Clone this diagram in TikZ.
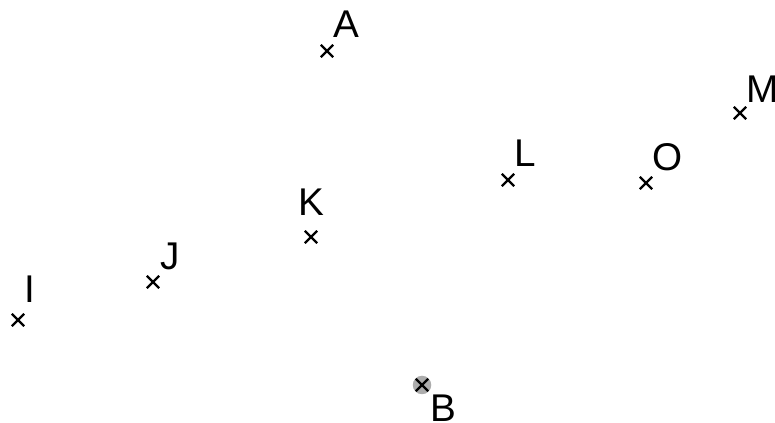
\documentclass[tikz,border=0pt]{standalone}
\usepackage{fontspec}
\setmainfont{Liberation Sans}
\usetikzlibrary{shapes.misc,positioning}
\begin{document}
\begin{tikzpicture}

      \useasboundingbox (0,0) rectangle (15.5,8.46);

      \node[circle, fill=gray!65, minimum size=0.37cm, inner sep=0pt] (Bdisc) at (8.44,0.76) {};

      \begin{scope}[every node/.style={cross out, draw, line width=1.3pt, minimum size=0.2cm, inner sep=0pt}]
        \node (A) at (6.54,7.44) {};
        \node (M) at (14.80,6.20) {};
        \node (L) at (10.16,4.86) {};
        \node (O) at (12.92,4.80) {};
        \node (K) at (6.22,3.72) {};
        \node (J) at (3.06,2.82) {};
        \node (I) at (0.36,2.06) {};
        \node (B) at (Bdisc) {};
      \end{scope}

      \begin{scope}[every node/.style={inner sep=0pt, font=\fontsize{22}{26}\selectfont}]
        \node[above right=0.14cm and 0.0cm of A] (lA) {A};
        \node[above right=0.08cm and 0.0cm of M] (lM) {M};
        \node[above right=0.14cm and 0.0cm of L] (lL) {L};
        \node[above right=0.12cm and 0.0cm of O] (lO) {O};
        \node[above=0.3cm of K] (lK) {K};
        \node[above right=0.12cm and 0.02cm of J] (lJ) {J};
        \node[above right=0.22cm and 0.0cm of I] (lI) {I};
        \node[below right=0.06cm and 0.04cm of B] (lB) {B};
      \end{scope}

    \end{tikzpicture}
\end{document}
